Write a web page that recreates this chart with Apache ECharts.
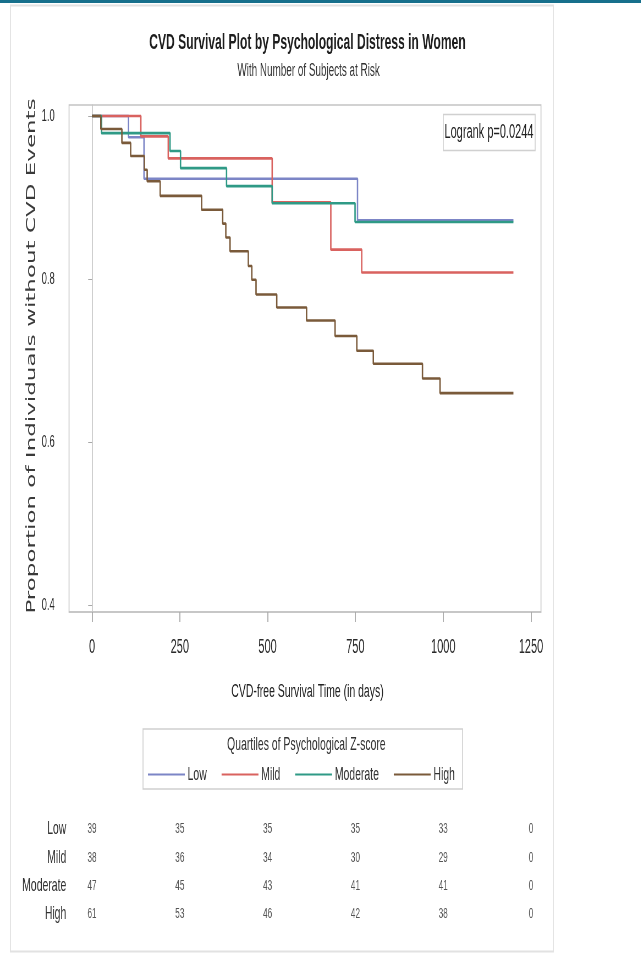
<!DOCTYPE html>
<html>
<head>
<meta charset="utf-8">
<script src="https://cdn.jsdelivr.net/npm/echarts@6/dist/echarts.min.js"></script>
<style>
html,body{margin:0;padding:0;background:#fff;overflow:hidden;width:641px;height:959px;}
#c{width:1166px;height:959px;transform:scaleX(0.55);transform-origin:0 0;}
</style>
</head>
<body>
<div id="c"></div>
<script>
// ---- data ----
const groups = ['Low', 'Mild', 'Moderate', 'High'];
const xTicks = [0, 250, 500, 750, 1000, 1250];
const yTicks = [0.4, 0.6, 0.8, 1.0];
const lowCurve = [[0,1],[104,0.974],[148,0.923],[756,0.872],[1200,0.872]];
const mildCurve = [[0,1],[139,0.975],[217,0.948],[513,0.894],[680,0.836],[768,0.808],[1200,0.808]];
const moderateCurve = [[0,1],[27,0.979],[222,0.957],[252,0.936],[383,0.914],[513,0.893],[749,0.870],[1200,0.870]];
const highCurve = [[0,1],[25,0.984],[85,0.967],[110,0.951],[149,0.934],[157,0.920],[194,0.902],[312,0.885],[372,0.868],[381,0.851],[393,0.834],[445,0.816],[455,0.799],[467,0.781],[526,0.765],[611,0.749],[692,0.730],[754,0.712],[801,0.696],[941,0.678],[991,0.660],[1200,0.660]];
const riskTimes = [0, 250, 500, 750, 1000, 1250];
const riskLow = [39, 35, 35, 35, 33, 0];
const riskMild = [38, 36, 34, 30, 29, 0];
const riskModerate = [47, 45, 43, 41, 41, 0];
const riskHigh = [61, 53, 46, 42, 38, 0];

const colors = ['#7c85c6', '#d9625f', '#2f9a86', '#7a5a3a'];
const sans = "'Liberation Sans', Arial, sans-serif";
const curves = [lowCurve, mildCurve, moderateCurve, highCurve];
const risks = [riskLow, riskMild, riskModerate, riskHigh];

const chart = echarts.init(document.getElementById('c'), null, {renderer: 'canvas'});

const lineSeries = groups.map((g, i) => ({
  name: g, type: 'line', step: 'end', data: curves[i],
  xAxisIndex: 0, yAxisIndex: 0,
  showSymbol: false, symbol: 'none',
  lineStyle: {color: colors[i], width: 2.6},
  itemStyle: {color: colors[i]},
  animation: false
}));

const riskSeries = groups.map((g, i) => ({
  name: 'risk_' + g, type: 'scatter', xAxisIndex: 1, yAxisIndex: 1,
  symbolSize: 1, itemStyle: {color: 'rgba(0,0,0,0)'},
  data: riskTimes.map((t, k) => [t, g, risks[i][k]]),
  label: {show: true, position: 'inside', formatter: p => String(p.value[2]),
    fontFamily: sans, fontSize: 15, color: '#2a2a2a'},
  animation: false, silent: true
}));

const option = {
  backgroundColor: '#fff',
  animation: false,
  title: [
    {text: 'CVD Survival Plot by Psychological Distress in Women', left: 554, top: 27, textAlign: 'center',
      textStyle: {fontFamily: sans, fontWeight: 'bold', fontSize: 22, color: '#1e1e1e'}},
    {text: 'With Number of Subjects at Risk', left: 556, top: 57, textAlign: 'center',
      textStyle: {fontFamily: sans, fontWeight: 'normal', fontSize: 18, color: '#333'}},
    {text: 'Quartiles of Psychological Z-score', left: 552, top: 730, textAlign: 'center',
      textStyle: {fontFamily: sans, fontWeight: 'normal', fontSize: 19, color: '#333'}},
    {text: 'CVD-free Survival Time (in days)', left: 554, top: 677, textAlign: 'center',
      textStyle: {fontFamily: sans, fontWeight: 'normal', fontSize: 19, color: '#222'}}
  ],
  legend: {
    data: groups, left: 260, top: 729, orient: 'horizontal',
    padding: [36, 14, 5, 9], itemGap: 27, itemWidth: 67, itemHeight: 2, itemTextGap: 18, icon: 'rect',
    borderColor: '#cfcfcf', borderWidth: 1.6,
    textStyle: {fontFamily: sans, fontSize: 19, color: '#333'}
  },
  grid: [
    {left: 125.5, right: 182.4, top: 105, bottom: 347, show: true, borderColor: '#c4c4c4', borderWidth: 1.6},
    {left: 125.5, right: 182.4, top: 815, bottom: 31, show: false}
  ],
  xAxis: [
    {type: 'value', gridIndex: 0, min: -65.5, max: 1278.5,
      axisLine: {show: true, lineStyle: {color: '#c4c4c4', width: 1.6}},
      axisTick: {show: true, length: 10, customValues: xTicks, lineStyle: {color: '#a8a8a8', width: 1.8}},
      axisLabel: {customValues: xTicks, margin: 25, fontFamily: sans, fontSize: 20, color: '#2a2a2a',
        formatter: v => String(v)},
      splitLine: {show: false}},
    {type: 'value', gridIndex: 1, min: -65.5, max: 1278.5, show: false}
  ],
  yAxis: [
    {type: 'value', gridIndex: 0, min: 0.3914, max: 1.0135,
      axisLine: {show: true, lineStyle: {color: '#c4c4c4', width: 1.6}},
      axisTick: {show: true, length: 7, customValues: yTicks, lineStyle: {color: '#a8a8a8'}},
      axisLabel: {customValues: yTicks, margin: 26, fontFamily: sans, fontSize: 17, color: '#2a2a2a',
        formatter: v => v.toFixed(1)},
      splitLine: {show: false}},
    {type: 'category', gridIndex: 1, data: groups, inverse: true,
      axisLine: {show: false}, axisTick: {show: false},
      axisLabel: {margin: 5, fontFamily: sans, fontSize: 19, color: '#333'}}
  ],
  graphic: [
    {type: 'rect', shape: {x: 0, y: 0, width: 1166, height: 3}, style: {fill: '#17708c'}, silent: true},
    {type: 'rect', shape: {x: 19, y: 5.5, width: 987, height: 946}, style: {fill: 'none', stroke: '#e2e2e2', lineWidth: 1.8}, silent: true},
    {type: 'rect', shape: {x: 806, y: 114.5, width: 167, height: 36}, style: {fill: '#fff', stroke: '#d0d0d0', lineWidth: 1.6}, z: 10},
    {type: 'text', x: 889, y: 132, z: 11, style: {text: 'Logrank p=0.0244', align: 'center', verticalAlign: 'middle',
      font: "20px 'Liberation Sans', Arial, sans-serif", fill: '#222'}},
    {type: 'text', x: 58, y: 356, rotation: Math.PI / 2, z: 11,
      style: {text: 'Proportion of Individuals without CVD Events', align: 'center', verticalAlign: 'middle',
        font: "23px 'DejaVu Sans', Verdana, sans-serif", fill: '#3a3a3a'}}
  ],
  series: lineSeries.concat(riskSeries)
};
chart.setOption(option);
</script>
</body>
</html>
